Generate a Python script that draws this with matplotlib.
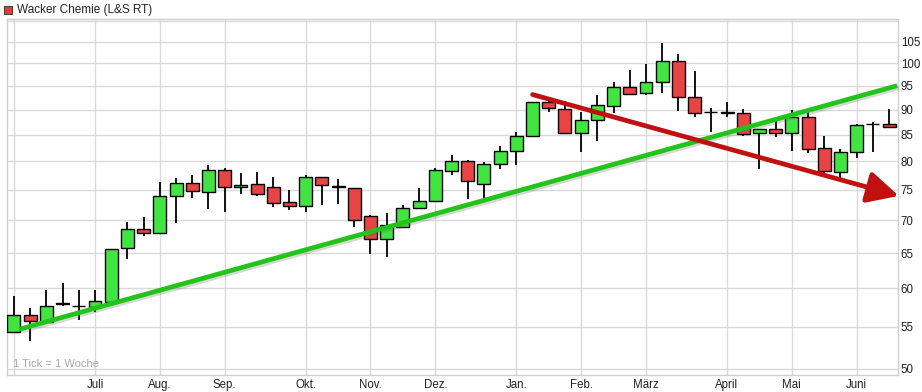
import matplotlib
matplotlib.use("Agg")
import matplotlib.pyplot as plt
import matplotlib.patheffects as pe
from matplotlib.patches import FancyArrowPatch, Rectangle, ArrowStyle
from matplotlib.ticker import FixedLocator, NullFormatter

# ---- data (weekly candles) ----
opens = [54.3, 56.5, 55.6, 57.9, 57.6, 57.5, 58.2, 65.7, 68.6, 68.0,
         74.0, 76.2, 74.6, 78.5, 75.5, 76.0, 75.5, 73.0, 72.3, 77.2,
         75.6, 75.3, 70.7, 67.1, 69.0, 72.0, 73.1, 78.3, 80.1, 76.0,
         79.5, 81.9, 84.7, 91.5, 90.2, 85.3, 87.9, 90.7, 94.8, 93.4,
         95.8, 100.5, 92.6, 89.4, 89.3, 89.3, 85.3, 86.1, 85.3, 88.5,
         82.5, 78.1, 81.7, 87.0, 87.1]
highs = [59.0, 57.4, 59.8, 60.8, 59.8, 59.8, 65.6, 69.7, 70.6, 76.4,
         77.0, 77.6, 79.3, 78.9, 78.0, 78.2, 77.2, 75.0, 77.6, 77.3,
         76.8, 75.4, 70.8, 71.1, 72.5, 75.4, 78.8, 81.2, 80.3, 79.9,
         82.9, 85.6, 91.6, 92.6, 91.8, 89.5, 93.0, 95.8, 98.4, 99.8,
         104.6, 102.1, 98.3, 90.3, 91.5, 90.1, 86.1, 87.8, 89.8, 89.6,
         84.7, 82.3, 87.1, 87.5, 90.2]
lows = [54.2, 53.2, 55.4, 57.6, 55.8, 56.9, 58.1, 64.1, 67.5, 68.0,
        69.6, 73.7, 71.9, 71.4, 74.3, 73.9, 72.2, 71.6, 71.3, 72.4,
        72.6, 69.0, 64.9, 64.4, 68.8, 71.8, 73.0, 77.5, 73.4, 73.6,
        78.6, 79.4, 84.6, 89.5, 85.2, 81.7, 83.8, 89.3, 93.2, 93.0,
        93.4, 89.6, 88.5, 85.6, 88.5, 84.7, 78.6, 84.5, 82.0, 81.5,
        77.9, 77.0, 80.6, 81.8, 86.4]
closes = [56.5, 55.7, 57.7, 58.0, 57.6, 58.3, 65.6, 68.6, 68.0, 74.0,
          76.2, 74.8, 78.5, 75.5, 75.8, 74.3, 72.8, 72.3, 77.2, 75.8,
          75.5, 70.1, 67.1, 69.3, 72.0, 73.1, 78.5, 80.1, 76.5, 79.5,
          81.9, 84.7, 91.5, 90.3, 85.3, 87.9, 90.9, 94.8, 93.2, 95.8,
          100.5, 92.6, 89.3, 89.4, 89.5, 85.2, 86.1, 85.3, 88.5, 82.3,
          78.3, 81.7, 86.9, 87.1, 86.5]

month_labels = ["Juli", "Aug.", "Sep.", "Okt.", "Nov.", "Dez.", "Jan.",
                "Feb.", "März", "April", "Mai", "Juni"]
month_weeks = [5, 9, 13, 18, 22, 26, 31, 35, 39, 44, 48, 52]
price_ticks = [50, 55, 60, 65, 70, 75, 80, 85, 90, 95, 100, 105]

# hand-drawn trend lines: (week, price)
green_trend = [(0.35, 54.7), (54.5, 95.0)]
red_trend = [(32.0, 93.1), (54.6, 74.0)]

title = "Wacker Chemie (L&S RT)"
note = "1 Tick = 1 Woche"

# ---- figure ----
FONT = "Liberation Sans"
fig = plt.figure(figsize=(9.22, 3.92), dpi=100)
fig.patch.set_facecolor("white")
ax = fig.add_axes([7 / 922, 1 - 375 / 392, (898 - 7) / 922, (375 - 19) / 392])
ax.set_yscale("log")
ax.set_xlim(-0.43, 54.55)
ax.set_ylim(49.3, 110.5)

grid_c = "#d9d9d9"
for s in ax.spines.values():
    s.set_color("#cfcfcf")
    s.set_linewidth(1.0)

ax.yaxis.tick_right()
ax.yaxis.set_major_locator(FixedLocator(price_ticks))
ax.yaxis.set_minor_locator(FixedLocator([110]))
ax.yaxis.set_minor_formatter(NullFormatter())
ax.set_yticklabels([str(p) for p in price_ticks])
ax.set_xticks(month_weeks)
ax.set_xticklabels(month_labels)
ax.set_xticks([0], minor=True)
ax.tick_params(axis="both", which="both", length=0, labelsize=8.3,
               labelcolor="#222222")
ax.tick_params(axis="y", pad=2)
ax.tick_params(axis="x", pad=3)
for lab in ax.get_xticklabels() + ax.get_yticklabels():
    lab.set_fontfamily(FONT)
ax.grid(True, which="both", color=grid_c, linewidth=1.0, zorder=0)
ax.set_axisbelow(True)

green_c = "#42e442"
red_c = "#e84444"
xs = list(range(len(opens)))
ax.vlines(xs, lows, highs, color="black", linewidth=1.3, zorder=2)
for i, (o, c) in enumerate(zip(opens, closes)):
    col = green_c if c >= o else red_c
    ax.bar(i, abs(c - o), bottom=min(o, c), width=0.8, color=col,
           edgecolor="black", linewidth=1.0, zorder=3)

shadow = [pe.SimpleLineShadow(offset=(1.2, -1.5), shadow_color="#666666", alpha=0.25),
          pe.Normal()]
ax.plot([p[0] for p in green_trend], [p[1] for p in green_trend],
        color="#22c41a", linewidth=3.4, solid_capstyle="butt",
        path_effects=shadow, zorder=5, clip_on=False)

arrow = FancyArrowPatch(red_trend[0], red_trend[1],
                        arrowstyle=ArrowStyle("-|>", head_length=0.95, head_width=0.48),
                        mutation_scale=20, color="#c01010", linewidth=3.4,
                        shrinkA=0, shrinkB=0, zorder=5, clip_on=False,
                        path_effects=[pe.SimplePatchShadow(offset=(1.2, -1.5), alpha=0.22),
                                      pe.Normal()])
ax.add_patch(arrow)

ax.text(0.0065, 0.017, note, transform=ax.transAxes,
        fontsize=8, color="#a8a8a8", fontfamily=FONT, va="bottom", ha="left")

# title legend
fig.patches.append(Rectangle((4 / 922, 1 - 14 / 392), 8 / 922, 8 / 392,
                             transform=fig.transFigure, facecolor="#e03c3c",
                             edgecolor="#444444", linewidth=0.8))
fig.text(17 / 922, 1 - 10 / 392, title, fontsize=8.5, color="#222222",
         fontfamily=FONT, va="center", ha="left")

fig.savefig("out.png", dpi=100, facecolor="white")
